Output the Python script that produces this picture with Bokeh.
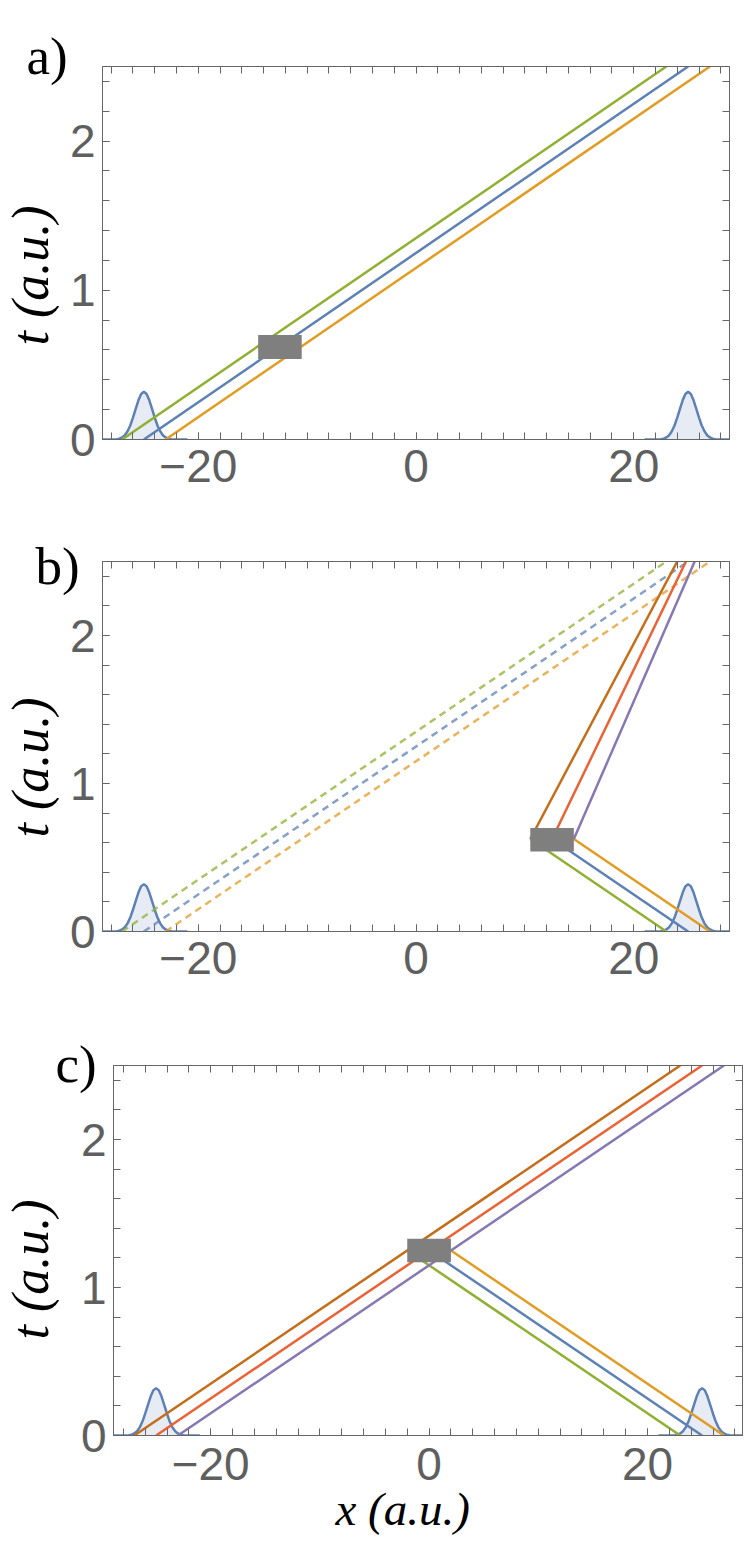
import math
from bokeh.plotting import figure
from bokeh.models import Range1d, FixedTicker, LinearAxis, Label, Title, ColumnDataSource
from bokeh.embed import file_html
from bokeh.resources import INLINE

# ---------------- data ----------------
X_MAJOR = [-20, 0, 20]
X_MINOR = [-28, -26, -24, -22, -20, -18, -16, -14, -12, -10, -8, -6, -4, -2, 0,
           2, 4, 6, 8, 10, 12, 14, 16, 18, 20, 22, 24, 26, 28]
T_MAJOR = [0, 1, 2]
T_MINOR = [0.2, 0.4, 0.6, 0.8, 1.0, 1.2, 1.4, 1.6, 1.8, 2.0, 2.2, 2.4]
X_LABELS = {-20: "\u221220", 0: "0", 20: "20"}

# wave packets (Gaussian bumps) at t = 0
PACKET_CENTERS = [-25, 25]
PACKET_DX = [-4.0, -3.0, -2.5, -2.25, -2.0, -1.75, -1.5, -1.25, -1.0, -0.75, -0.5, -0.25, 0.0,
             0.25, 0.5, 0.75, 1.0, 1.25, 1.5, 1.75, 2.0, 2.25, 2.5, 3.0, 4.0]
PACKET_T = [0.0, 0.0, 0.002, 0.006, 0.014, 0.029, 0.055, 0.094, 0.147, 0.206, 0.263, 0.305, 0.32,
            0.305, 0.263, 0.206, 0.147, 0.094, 0.055, 0.029, 0.014, 0.006, 0.002, 0.0, 0.0]

# panel a: free trajectories
A_SERIES = ["green", "blue", "orange"]
A_X0 = [-27, -25, -23]
A_T0 = [0.0, 0.0, 0.0]
A_X1 = [23, 25, 27]
A_T1 = [2.5, 2.5, 2.5]
A_BOX_X = [-12.5]
A_BOX_T = [0.62]

# panel b: dashed free trajectories + reflected ones
B_DASH_SERIES = ["green", "blue", "orange"]
B_DASH_X0 = [-27, -25, -23]
B_DASH_T0 = [0.0, 0.0, 0.0]
B_DASH_X1 = [23, 25, 27]
B_DASH_T1 = [2.5, 2.5, 2.5]
B_SERIES = ["green", "blue", "orange", "brown", "red", "purple"]
B_X0 = [23, 25, 27, 10.5, 12.5, 14.5]
B_T0 = [0.0, 0.0, 0.0, 0.625, 0.625, 0.625]
B_X1 = [10.5, 12.5, 14.5, 24.0, 24.8, 25.6]
B_T1 = [0.625, 0.625, 0.625, 2.5, 2.5, 2.5]
B_BOX_X = [12.5]
B_BOX_T = [0.62]

# panel c: head-on
C_SERIES = ["green", "blue", "orange", "brown", "red", "purple"]
C_X0 = [23, 25, 27, -27, -25, -23]
C_T0 = [0.0, 0.0, 0.0, 0.0, 0.0, 0.0]
C_X1 = [-2, 0, 2, 23, 25, 27]
C_T1 = [1.25, 1.25, 1.25, 2.5, 2.5, 2.5]
C_BOX_X = [0.0]
C_BOX_T = [1.25]

# ---------------- styles ----------------
COLORS = {"blue": "#5E81B5", "orange": "#E19C24", "green": "#8FB032",
          "red": "#EB6235", "purple": "#8778B3", "brown": "#C56E1A"}
FRAME_COLOR = "#666666"
LABEL_COLOR = "#5f5f5f"
BOX_COLOR = "#7f7f7f"
BOX_W, BOX_H = 4.0, 0.16
LW = 2.5


def style_axis(ax, ticker, labels):
    ax.ticker = ticker
    ax.axis_line_color = FRAME_COLOR
    ax.major_tick_line_color = FRAME_COLOR
    ax.minor_tick_line_color = FRAME_COLOR
    ax.major_tick_in = 7
    ax.major_tick_out = 0
    ax.minor_tick_in = 7
    ax.minor_tick_out = 0
    ax.major_label_text_font = "Liberation Sans"
    ax.major_label_text_color = LABEL_COLOR
    if labels:
        ax.major_label_text_font_size = "46px"
    else:
        ax.major_label_text_font_size = "0px"
        ax.major_label_standoff = 0
        ax.axis_label_standoff = 0


def build(width, height, left, right, top, bottom, xr, push, xstand):
    p = figure(width=width, height=height, x_range=Range1d(*xr), y_range=Range1d(0, 2.5),
               min_border_left=left, min_border_right=right, min_border_top=top,
               min_border_bottom=bottom, output_backend="svg", toolbar_location=None)
    p.xgrid.visible = False
    p.ygrid.visible = False
    p.outline_line_color = FRAME_COLOR
    style_axis(p.xaxis[0], FixedTicker(ticks=X_MAJOR, minor_ticks=X_MINOR), True)
    p.xaxis[0].major_label_overrides = X_LABELS
    p.xaxis[0].major_label_standoff = xstand
    style_axis(p.yaxis[0], FixedTicker(ticks=T_MAJOR, minor_ticks=T_MINOR), True)
    p.yaxis[0].major_label_standoff = 7
    # invisible spacer label pushes the t-title outward
    p.yaxis[0].axis_label = " "
    p.yaxis[0].axis_label_text_font_size = "1px"
    p.yaxis[0].axis_label_standoff = push
    top_ax = LinearAxis()
    style_axis(top_ax, FixedTicker(ticks=[], minor_ticks=X_MINOR), False)
    p.add_layout(top_ax, "above")
    right_ax = LinearAxis()
    style_axis(right_ax, FixedTicker(ticks=[], minor_ticks=T_MINOR), False)
    p.add_layout(right_ax, "right")
    # wave packets
    for c in PACKET_CENTERS:
        xs = [c + d for d in PACKET_DX]
        p.varea(x=xs, y1=[0.0] * len(xs), y2=PACKET_T, fill_color=COLORS["blue"], fill_alpha=0.15)
        p.line(xs, PACKET_T, line_color=COLORS["blue"], line_width=LW)
    return p


def segments(p, names, x0, t0, x1, t1, dashed=False):
    src = ColumnDataSource(dict(x0=x0, y0=t0, x1=x1, y1=t1, c=[COLORS[n] for n in names]))
    if dashed:
        p.segment("x0", "y0", "x1", "y1", source=src, line_color="c", line_width=LW,
                  line_dash="7 5", line_alpha=0.75)
    else:
        p.segment("x0", "y0", "x1", "y1", source=src, line_color="c", line_width=LW)


def box(p, bx, bt):
    p.rect(x=bx, y=bt, width=BOX_W, height=BOX_H, fill_color=BOX_COLOR, line_color=None)


def texts(p, letter, lx, ly, t_offset):
    p.add_layout(Label(x=lx, y=ly, x_units="screen", y_units="screen", text=letter,
                       text_font="Liberation Serif", text_font_size="53px", text_color="black",
                       text_align="left", text_baseline="alphabetic"), "above")
    p.add_layout(Title(text="t (a.u.)", align="left", offset=t_offset, standoff=0,
                       vertical_align="middle", text_font="Liberation Serif",
                       text_font_style="italic", text_font_size="52px", text_color="black"), "left")


# panel a
pa = build(746, 502, 97, 17, 66, 63, (-28.8, 28.8), 3, 10)
segments(pa, A_SERIES, A_X0, A_T0, A_X1, A_T1)
box(pa, A_BOX_X, A_BOX_T)
texts(pa, "a)", -76, 11, 94)

# panel b
pb = build(746, 499, 97, 17, 59, 70, (-28.8, 28.8), 3, 10)
segments(pb, B_DASH_SERIES, B_DASH_X0, B_DASH_T0, B_DASH_X1, B_DASH_T1, dashed=True)
segments(pb, B_SERIES, B_X0, B_T0, B_X1, B_T1)
box(pb, B_BOX_X, B_BOX_T)
texts(pb, "b)", -67, -4, 94)

# panel c
pc = build(746, 550, 108, 4, 64, 116, (-28.9, 28.7), 14, 12)
segments(pc, C_SERIES, C_X0, C_T0, C_X1, C_T1)
box(pc, C_BOX_X, C_BOX_T)
texts(pc, "c)", -58, 2, 96)
pc.add_layout(Title(text="x (a.u.)", align="left", offset=222, standoff=0, vertical_align="top",
                    text_font="Liberation Serif", text_font_style="italic", text_font_size="47px",
                    text_color="black"), "below")

open("out.html", "w").write(file_html([pa, pb, pc], INLINE))
